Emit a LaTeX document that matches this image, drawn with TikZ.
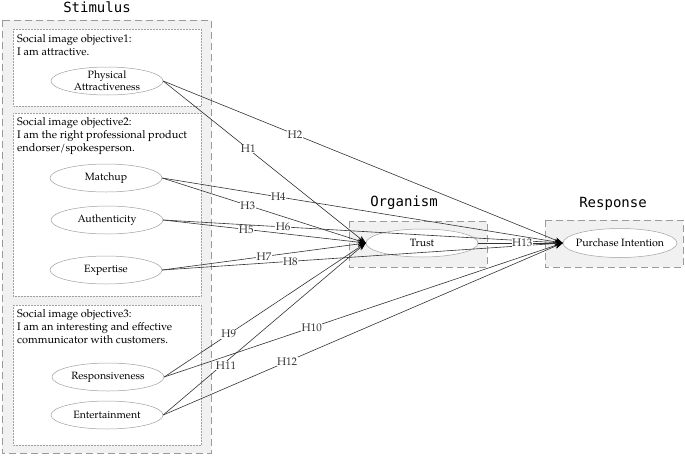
\documentclass[tikz,border=0pt]{standalone}
\usepackage{fontspec}
\setmainfont{TeX Gyre Pagella}
\newfontfamily\titlefont{DejaVu Sans Mono}
\usetikzlibrary{arrows.meta,shapes.geometric}
\definecolor{boxfill}{HTML}{F1F1F1}
\definecolor{boxedge}{HTML}{9A9A9A}
\definecolor{ovaledge}{HTML}{A0A0A0}
\definecolor{linecol}{HTML}{333333}
\tikzset{
  groupbox/.style={draw=boxedge, fill=boxfill, line width=1pt, dash pattern=on 7pt off 4pt},
  subbox/.style={draw=ovaledge, fill=white, line width=0.5pt, densely dotted},
  ovalline/.style={draw=ovaledge, fill=white, line width=0.5pt},
  oval/.style={rectangle, minimum width=112pt, minimum height=28pt, inner sep=0pt, font=\fontsize{10.6}{12}\selectfont, align=center},
  grouptitle/.style={font=\titlefont\fontsize{14}{16}\selectfont},
  objtext/.style={anchor=north west, align=left, inner sep=0pt, font=\fontsize{11}{13}\selectfont},
  hyp/.style={draw=linecol, line width=0.6pt, -{Stealth[length=8pt,width=5.5pt,black]}},
  hlab/.style={fill=white, inner sep=0.5pt, font=\fontsize{11}{12}\selectfont, text=linecol}
}
\begin{document}
\begin{tikzpicture}[x=1pt,y=-1pt]
\useasboundingbox (0,0) rectangle (685,456);
% Stimulus
\node[grouptitle] (tstim) at (97,7) {Stimulus};
\draw[groupbox] (2,20) rectangle (211,453);
\draw[subbox] (13,29) rectangle (201,106);
\draw[subbox] (13,113) rectangle (201,296);
\draw[subbox] (13,305) rectangle (201,445);
\node[objtext] (o1) at (17,34) {Social image objective1:\\I am attractive.};
\node[objtext] (o2) at (17,117) {Social image objective2:\\I am the right professional product\\endorser/spokesperson.};
\node[objtext] (o3) at (17,309) {Social image objective3:\\I am an interesting and effective\\communicator with customers.};
\draw[ovalline] (107,81) ellipse [x radius=56, y radius=14];
\node[oval] (pa) at (107,81) {Physical\\Attractiveness};
\draw[ovalline] (106,178) ellipse [x radius=56, y radius=14];
\node[oval] (mu) at (106,178) {Matchup};
\draw[ovalline] (107,220) ellipse [x radius=56, y radius=14];
\node[oval] (au) at (107,220) {Authenticity};
\draw[ovalline] (106,270) ellipse [x radius=56, y radius=14];
\node[oval] (ex) at (106,270) {Expertise};
\draw[ovalline] (108,377) ellipse [x radius=56, y radius=14];
\node[oval] (re) at (108,377) {Responsiveness};
\draw[ovalline] (107,415) ellipse [x radius=56, y radius=14];
\node[oval] (en) at (107,415) {Entertainment};
% Organism
\node[grouptitle] (torg) at (404,203) {Organism};
\draw[groupbox] (349,221) rectangle (487,267);
\draw[ovalline] (422,243) ellipse [x radius=56, y radius=14];
\node[oval] (tr) at (422,243) {Trust};
% Response
\node[grouptitle] (tres) at (613,204) {Response};
\draw[groupbox] (545,220) rectangle (683,267);
\draw[ovalline] (620,243) ellipse [x radius=57, y radius=14.5];
\node[oval, minimum width=114pt] (pi) at (620,243) {Purchase Intention};
% Hypotheses
\draw[hyp] (pa.east) -- node[hlab, pos=0.42] {H1} (tr.west);
\draw[hyp] (pa.east) -- node[hlab, pos=0.33] {H2} (pi.west);
\draw[hyp] (mu.east) -- node[hlab, pos=0.42] {H3} (tr.west);
\draw[hyp] (mu.east) -- node[hlab, pos=0.29] {H4} (pi.west);
\draw[hyp] (au.east) -- node[hlab, pos=0.41] {H5} (tr.west);
\draw[hyp] (au.east) -- node[hlab, pos=0.30] {H6} (pi.west);
\draw[hyp] (ex.east) -- node[hlab, pos=0.50] {H7} (tr.west);
\draw[hyp] (ex.east) -- node[hlab, pos=0.32] {H8} (pi.west);
\draw[hyp] (re.east) -- node[hlab, pos=0.32] {H9} (tr.west);
\draw[hyp] (re.east) -- node[hlab, pos=0.37] {H10} (pi.west);
\draw[hyp] (en.east) -- node[hlab, pos=0.31, yshift=-4pt] {H11} (tr.west);
\draw[hyp] (en.east) -- node[hlab, pos=0.31] {H12} (pi.west);
\draw[hyp] (tr.east) -- node[hlab, pos=0.52] {H13} (pi.west);
\end{tikzpicture}
\end{document}
